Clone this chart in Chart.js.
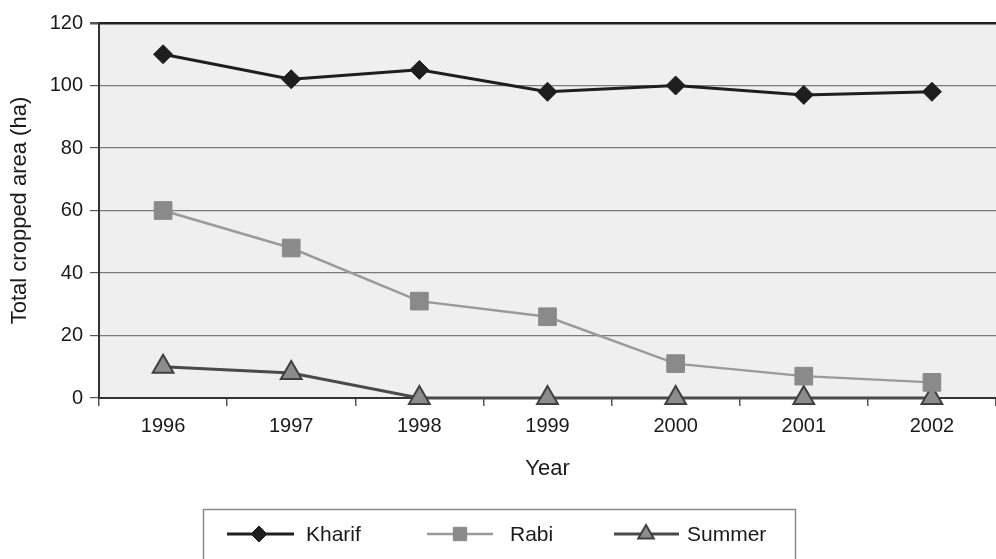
<!DOCTYPE html>
<html>
<head>
<meta charset="utf-8">
<script src="https://cdn.jsdelivr.net/npm/chart.js@4/dist/chart.umd.min.js"></script>
<style>
  html, body { margin: 0; padding: 0; background: #ffffff; }
  #wrap { width: 996px; height: 559px; position: relative; }
</style>
</head>
<body>
<div id="wrap"><canvas id="c" width="996" height="559"></canvas></div>
<script>
const years = ['1996', '1997', '1998', '1999', '2000', '2001', '2002'];
const kharif = [110, 102, 105, 98, 100, 97, 98];
const rabi = [60, 48, 31, 26, 11, 7, 5];
const summer = [10, 8, 0, 0, 0, 0, 0];
const seriesNames = ['Kharif', 'Rabi', 'Summer'];
const yTicks = [0, 20, 40, 60, 80, 100, 120];

const FONT = "'Liberation Sans', Arial, Helvetica, sans-serif";

const plotBg = {
  id: 'plotBg',
  beforeDraw(chart) {
    const {ctx, chartArea: a} = chart;
    ctx.save();
    ctx.fillStyle = '#efefef';
    ctx.fillRect(a.left, a.top, a.right - a.left, a.bottom - a.top);
    ctx.restore();
  }
};

const boxedLegend = {
  id: 'boxedLegend',
  afterDraw(chart) {
    const ctx = chart.ctx;
    ctx.save();
    ctx.strokeStyle = '#8a8a8a';
    ctx.lineWidth = 1.5;
    ctx.strokeRect(203.5, 509.5, 592, 70);
    const items = [
      {line: [227, 294], mark: 259, text: 306, r: 8},
      {line: [427, 493], mark: 460, text: 510, r: 9.5},
      {line: [614, 679], mark: 646, text: 687, r: 9}
    ];
    const y = 534;
    chart.data.datasets.forEach((ds, i) => {
      const it = items[i];
      ctx.strokeStyle = ds.borderColor;
      ctx.lineWidth = ds.borderWidth;
      ctx.beginPath();
      ctx.moveTo(it.line[0], y);
      ctx.lineTo(it.line[1], y);
      ctx.stroke();
      ctx.fillStyle = ds.pointBackgroundColor;
      ctx.strokeStyle = ds.pointBorderColor;
      ctx.lineWidth = ds.pointBorderWidth;
      Chart.helpers.drawPoint(ctx, {
        pointStyle: ds.pointStyle,
        radius: it.r,
        rotation: 0,
        borderWidth: ds.pointBorderWidth
      }, it.mark, y);
      ctx.fillStyle = '#1a1a1a';
      ctx.font = '21px ' + FONT;
      ctx.textBaseline = 'middle';
      ctx.textAlign = 'left';
      ctx.fillText(ds.label, it.text, y + 1);
    });
    ctx.restore();
  }
};

new Chart(document.getElementById('c'), {
  type: 'line',
  data: {
    labels: years,
    datasets: [
      {
        label: seriesNames[0],
        data: kharif,
        borderColor: '#1e1e1e',
        borderWidth: 3,
        pointStyle: 'rectRot',
        pointRadius: 9.5,
        pointBackgroundColor: '#1e1e1e',
        pointBorderColor: '#1e1e1e',
        pointBorderWidth: 1,
        tension: 0
      },
      {
        label: seriesNames[1],
        data: rabi,
        borderColor: '#9a9a9a',
        borderWidth: 2.5,
        pointStyle: 'rect',
        pointRadius: 12.5,
        pointBackgroundColor: '#8a8a8a',
        pointBorderColor: '#8a8a8a',
        pointBorderWidth: 1,
        tension: 0
      },
      {
        label: seriesNames[2],
        data: summer,
        borderColor: '#4a4a4a',
        borderWidth: 3,
        pointStyle: 'triangle',
        pointRadius: 12,
        pointBackgroundColor: '#8c8c8c',
        pointBorderColor: '#404040',
        pointBorderWidth: 2,
        tension: 0
      }
    ]
  },
  options: {
    responsive: false,
    animation: false,
    clip: false,
    layout: { autoPadding: false, padding: { top: 23, right: 0, bottom: 77, left: 0 } },
    plugins: {
      legend: { display: false },
      tooltip: { enabled: false },
      title: { display: false }
    },
    scales: {
      x: {
        type: 'category',
        offset: true,
        afterFit(scale) {
          scale.height = 84;
          scale.paddingLeft = 0;
          scale.paddingRight = 0;
        },
        grid: {
          display: true,
          offset: true,
          drawOnChartArea: false,
          drawTicks: true,
          tickLength: 8,
          color: '#555555',
          lineWidth: 1.5
        },
        border: { display: true, color: '#333333', width: 2 },
        ticks: {
          color: '#1a1a1a',
          font: { family: FONT, size: 20 },
          padding: 8,
          maxRotation: 0
        },
        title: {
          display: true,
          text: 'Year',
          color: '#1a1a1a',
          font: { family: FONT, size: 22 },
          padding: { top: 0, bottom: 0 }
        }
      },
      y: {
        min: 0,
        max: 120,
        afterFit(scale) { scale.width = 99; },
        afterBuildTicks(scale) { scale.ticks = yTicks.map(v => ({ value: v })); },
        grid: {
          display: true,
          drawTicks: true,
          tickLength: 9,
          color: (c) => c.tick && c.tick.value === 120 ? '#222222' : '#7a7a7a',
          lineWidth: (c) => c.tick && c.tick.value === 120 ? 2.5 : 1.2,
          tickColor: '#555555'
        },
        border: { display: true, color: '#333333', width: 2 },
        ticks: {
          color: '#1a1a1a',
          font: { family: FONT, size: 20 },
          padding: 7
        },
        title: {
          display: true,
          text: 'Total cropped area (ha)',
          color: '#1a1a1a',
          font: { family: FONT, size: 22 },
          padding: { top: 7, bottom: 0 }
        }
      }
    }
  },
  plugins: [plotBg, boxedLegend]
});
</script>
</body>
</html>
